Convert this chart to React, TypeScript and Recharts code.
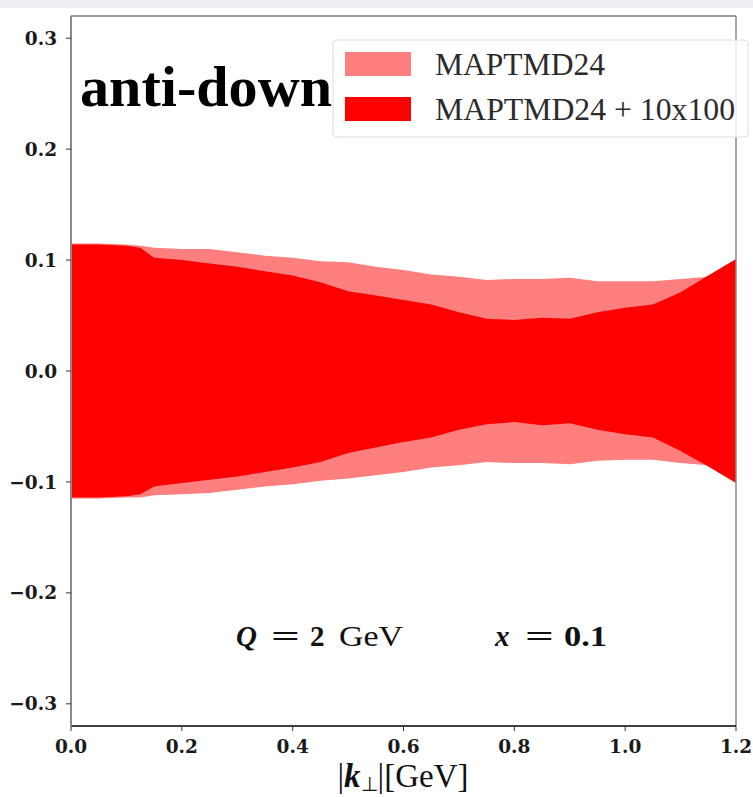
import { ComposedChart, Area, XAxis, YAxis, ReferenceLine } from 'recharts';

// |k_perp| grid [GeV]
const kPerp = [0, 0.05, 0.1, 0.125, 0.15, 0.2, 0.25, 0.3, 0.35, 0.4, 0.45, 0.5, 0.55, 0.6, 0.65, 0.7, 0.75, 0.8, 0.85, 0.9, 0.95, 1.0, 1.05, 1.1, 1.15, 1.2];

// MAPTMD24 band
const baseHi = [0.115, 0.115, 0.114, 0.113, 0.111, 0.11, 0.11, 0.107, 0.104, 0.102, 0.099, 0.098, 0.094, 0.091, 0.087, 0.085, 0.082, 0.083, 0.083, 0.084, 0.081, 0.081, 0.081, 0.083, 0.085, 0.086];
const baseLo = [-0.115, -0.115, -0.114, -0.114, -0.112, -0.111, -0.11, -0.107, -0.104, -0.102, -0.099, -0.097, -0.094, -0.091, -0.087, -0.085, -0.082, -0.083, -0.083, -0.084, -0.081, -0.08, -0.08, -0.083, -0.085, -0.086];

// MAPTMD24 + 10x100 band
const extHi = [0.114, 0.114, 0.113, 0.111, 0.102, 0.1, 0.097, 0.094, 0.09, 0.086, 0.08, 0.072, 0.068, 0.064, 0.06, 0.053, 0.047, 0.046, 0.048, 0.047, 0.053, 0.057, 0.06, 0.071, 0.086, 0.101];
const extLo = [-0.114, -0.114, -0.113, -0.111, -0.104, -0.101, -0.098, -0.095, -0.091, -0.087, -0.082, -0.074, -0.069, -0.064, -0.06, -0.053, -0.048, -0.046, -0.049, -0.047, -0.053, -0.057, -0.06, -0.072, -0.086, -0.101];

const xTicks = [0, 0.2, 0.4, 0.6, 0.8, 1.0, 1.2];
const yTicks = [-0.3, -0.2, -0.1, 0, 0.1, 0.2, 0.3];

const LIGHT = '#ff7f7f';
const DARK = '#ff0000';

const data = kPerp.map((k, i) => ({
  k,
  base: [baseLo[i], baseHi[i]],
  ext: [extLo[i], extHi[i]],
}));

const fmt = (v: number) => (v < 0 ? '\u2212' : '') + Math.abs(v).toFixed(1);

const tickStyle = {
  fill: '#1a1a1a',
  fontFamily: 'DejaVu Serif',
  fontWeight: 'bold' as const,
  fontSize: 18.5,
};

const serif = 'Liberation Serif';

export default function App() {
  return (
    <div style={{ position: 'absolute', left: 0, top: 0, width: 753, height: 797, background: '#fff' }}>
      <div style={{ position: 'absolute', left: 0, top: 0, width: 753, height: 8, background: '#efeff3' }} />
      <ComposedChart
        width={753}
        height={797}
        data={data}
        margin={{ top: 16, right: 17, bottom: 1, left: 0 }}
      >
        <XAxis
          type="number"
          dataKey="k"
          domain={[0, 1.2]}
          ticks={xTicks}
          tickFormatter={fmt}
          tick={tickStyle}
          tickSize={5}
          tickMargin={9}
          height={70}
          axisLine={{ stroke: '#000', strokeWidth: 1.5 }}
          tickLine={{ stroke: '#333' }}
        />
        <YAxis
          type="number"
          domain={[-0.32, 0.32]}
          ticks={yTicks}
          tickFormatter={fmt}
          tick={tickStyle}
          tickSize={5}
          tickMargin={9}
          width={71}
          axisLine={{ stroke: '#8a8a8a', strokeWidth: 2 }}
          tickLine={{ stroke: '#333' }}
        />
        <Area
          type="linear"
          dataKey="base"
          fill={LIGHT}
          fillOpacity={1}
          stroke="none"
          isAnimationActive={false}
        />
        <Area
          type="linear"
          dataKey="ext"
          fill={DARK}
          fillOpacity={1}
          stroke="none"
          isAnimationActive={false}
        />
        <ReferenceLine y={0.32} stroke="#7a7a7a" strokeWidth={1.5} />
        <ReferenceLine x={1.2} stroke="#8a8a8a" strokeWidth={1.5} />
      </ComposedChart>

      <svg
        width={753}
        height={797}
        style={{ position: 'absolute', left: 0, top: 0, pointerEvents: 'none' }}
      >
        <text
          x={80}
          y={106}
          fontFamily={serif}
          fontWeight="bold"
          fontSize={57}
          fill="#000"
          textLength={252}
          lengthAdjust="spacingAndGlyphs"
        >
          anti-down
        </text>

        {/* legend */}
        <rect x={333} y={40} width={415} height={97} rx={4} fill="#fff" fillOpacity={0.85} stroke="#dcdcdc" />
        <rect x={345} y={52} width={66} height={24} fill={LIGHT} />
        <rect x={345} y={97} width={66} height={24} fill={DARK} />
        <text x={435} y={75} fontFamily={serif} fontSize={31} fill="#2b2b2b" textLength={170} lengthAdjust="spacingAndGlyphs">
          MAPTMD24
        </text>
        <text x={435} y={120} fontFamily={serif} fontSize={31} fill="#2b2b2b" textLength={300} lengthAdjust="spacingAndGlyphs">
          MAPTMD24 + 10x100
        </text>

        {/* kinematics */}
        <g fontFamily={serif} fontSize={29} fill="#111">
          <text x={236} y={646} fontStyle="italic" fontWeight="bold">Q</text>
          <text x={271} y={646} fontWeight="bold" textLength={29} lengthAdjust="spacingAndGlyphs">=</text>
          <text x={310} y={646} fontWeight="bold">2</text>
          <text x={339} y={646} textLength={64} lengthAdjust="spacingAndGlyphs">GeV</text>
          <text x={495} y={646} fontStyle="italic" fontWeight="bold">x</text>
          <text x={525} y={646} fontWeight="bold" textLength={29} lengthAdjust="spacingAndGlyphs">=</text>
          <text x={564} y={646} fontWeight="bold" textLength={43} lengthAdjust="spacingAndGlyphs">0.1</text>
        </g>

        <text x={403} y={787} textAnchor="middle" fontFamily={serif} fontSize={33} fill="#111">
          <tspan>|</tspan>
          <tspan fontStyle="italic" fontWeight="bold">k</tspan>
          <tspan fontSize={20} dy={4}>⊥</tspan>
          <tspan dy={-4}>|[GeV]</tspan>
        </text>
      </svg>
    </div>
  );
}
